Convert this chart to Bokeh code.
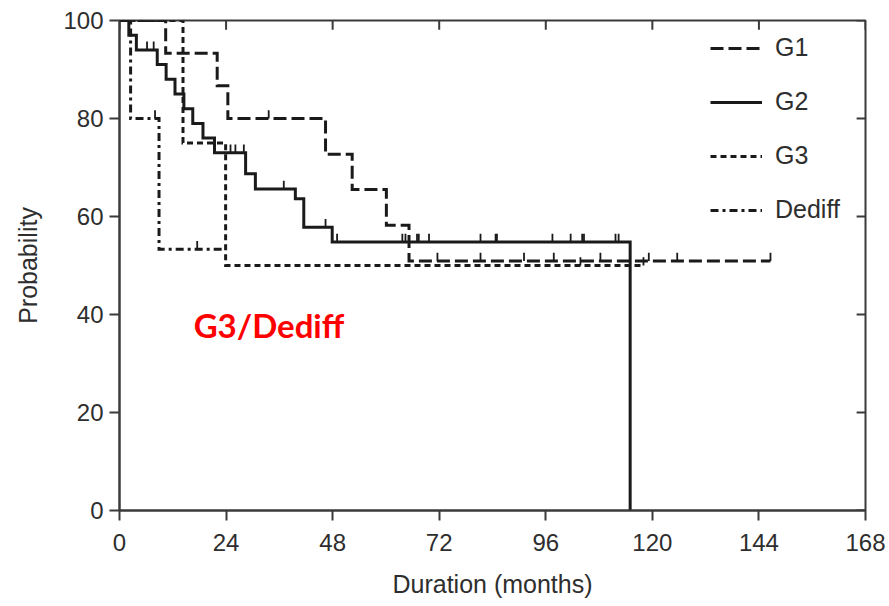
import math
from bokeh.plotting import figure
from bokeh.models import (Range1d, FixedTicker, Legend, LegendItem,
                          Label, ColumnDataSource)
from bokeh.embed import file_html
from bokeh.resources import INLINE

# ---------------- data ----------------
x_ticks = [0, 24, 48, 72, 96, 120, 144, 168]
y_ticks = [0, 20, 40, 60, 80, 100]

series_names = ["G1", "G2", "G3", "Dediff"]

g1_time = [0, 10.4, 22.0, 24.4, 46.4, 52.4, 60.1, 65.2, 146.6]
g1_surv = [100, 93.3, 86.7, 80.0, 72.7, 65.5, 58.2, 50.9, 50.9]
g1_cens_time = [33.6, 71.6, 81.3, 91.1, 97.8, 108.3, 119.2, 125.6, 146.6]
g1_cens_surv = [80.0, 50.9, 50.9, 50.9, 50.9, 50.9, 50.9, 50.9, 50.9]

g2_time = [0, 2.1, 3.8, 8.5, 10.5, 12.5, 14.5, 16.5, 18.8, 21.4, 28.4, 30.6,
           39.6, 41.5, 47.9, 115.0]
g2_surv = [100, 97, 94, 91, 88, 85, 82, 79, 76, 73, 68.7, 65.6,
           63.6, 57.8, 54.8, 0]
g2_cens_time = [6.2, 7.7, 25.0, 26.1, 28.0, 37.0, 46.4, 49.0, 63.7, 64.4, 67.0,
                67.4, 69.7, 81.3, 84.7, 85.0, 97.5, 101.6, 104.2, 104.6, 111.7, 112.4]
g2_cens_surv = [94, 94, 73, 73, 73, 65.6, 57.8, 54.8, 54.8, 54.8, 54.8,
                54.8, 54.8, 54.8, 54.8, 54.8, 54.8, 54.8, 54.8, 54.8, 54.8, 54.8]

g3_time = [0, 14.3, 23.9, 118.0]
g3_surv = [100, 75, 50, 50]
g3_cens_time = [103.8, 118.0]
g3_cens_surv = [50, 50]

dd_time = [0, 2.5, 8.9, 23.9]
dd_surv = [100, 80, 53.3, 53.3]
dd_cens_time = [8.0, 17.5]
dd_cens_surv = [80, 53.3]

annotation_text = "G3/Dediff"
annotation_x = 16.7
annotation_y = 37.8

# ---------------- styling ----------------
INK = "#1a1a1a"
AXIS = "#3a3a3a"
TXT = "#2e2e2e"
FONT = "Liberation Sans"
TICK_H = 1.7      # censor tick height (probability units)
IN_TICK_X = 1.9   # inner tick length on the top edge (probability units)
IN_TICK_Y = 2.0   # inner tick length on the right edge (months)

p = figure(width=889, height=606, output_backend="svg", toolbar_location=None,
           x_range=Range1d(0, 168), y_range=Range1d(0, 100),
           min_border_left=119, min_border_right=24, min_border_top=20,
           min_border_bottom=96)
p.outline_line_color = AXIS
p.outline_line_width = 2
p.xgrid.visible = False
p.ygrid.visible = False
p.background_fill_color = "white"
p.border_fill_color = "white"


def style_axis(ax, ticks):
    ax.ticker = FixedTicker(ticks=ticks)
    ax.axis_line_color = AXIS
    ax.axis_line_width = 2
    ax.major_tick_line_color = AXIS
    ax.major_tick_line_width = 2
    ax.major_tick_in = 0
    ax.major_tick_out = 10
    ax.minor_tick_line_color = None
    ax.major_label_text_font = FONT
    ax.major_label_text_color = TXT
    ax.major_label_text_font_size = "24px"
    ax.axis_label_text_font = FONT
    ax.axis_label_text_color = TXT
    ax.axis_label_text_font_style = "normal"
    ax.axis_label_text_font_size = "25px"


xa = p.xaxis[0]
style_axis(xa, x_ticks)
xa.axis_label = "Duration (months)"
xa.major_label_standoff = 13
xa.axis_label_standoff = 16

ya = p.yaxis[0]
style_axis(ya, y_ticks)
ya.axis_label = "Probability"
ya.major_label_standoff = 6
ya.axis_label_standoff = 18

# inward ticks on the top and right edges of the frame
top_src = ColumnDataSource(dict(x=x_ticks, y0=[100] * len(x_ticks),
                                y1=[100 - IN_TICK_X] * len(x_ticks)))
p.segment(x0="x", y0="y0", x1="x", y1="y1", source=top_src,
          line_color=AXIS, line_width=2)
right_src = ColumnDataSource(dict(y=y_ticks, x0=[168] * len(y_ticks),
                                  x1=[168 - IN_TICK_Y] * len(y_ticks)))
p.segment(x0="x0", y0="y", x1="x1", y1="y", source=right_src,
          line_color=AXIS, line_width=2)

series = [
    (g1_time, g1_surv, g1_cens_time, g1_cens_surv, "13 5"),
    (g2_time, g2_surv, g2_cens_time, g2_cens_surv, "solid"),
    (g3_time, g3_surv, g3_cens_time, g3_cens_surv, "6 4"),
    (dd_time, dd_surv, dd_cens_time, dd_cens_surv, "8 4 3 4"),
]

items = []
for name, (t, s, ct, cs, dash) in zip(series_names, series):
    r_line = p.step(t, s, mode="after", line_color=INK, line_width=3,
                    line_dash=dash, line_join="miter")
    src = ColumnDataSource(dict(x=ct, y0=cs, y1=[v + TICK_H for v in cs]))
    p.segment(x0="x", y0="y0", x1="x", y1="y1", source=src,
              line_color=INK, line_width=1.8)
    r_leg = p.scatter(x=[], y=[], marker="dash", angle=math.pi / 2, size=10,
                      line_color=INK, line_width=1.8)
    items.append(LegendItem(label=name, renderers=[r_line, r_leg]))

legend = Legend(items=items, location=(591, 286), orientation="vertical",
                glyph_width=52, glyph_height=28, label_height=28,
                label_standoff=13, spacing=25, padding=0, margin=0,
                background_fill_alpha=0, border_line_color=None,
                label_text_font=FONT, label_text_font_size="25px",
                label_text_color=TXT)
p.add_layout(legend, "center")

p.add_layout(Label(x=annotation_x, y=annotation_y, text=annotation_text,
                   text_font="Lato", text_font_style="bold",
                   text_font_size="33px", text_color="#ff0000",
                   text_baseline="alphabetic"))

open("out.html", "w").write(file_html(p, INLINE))
